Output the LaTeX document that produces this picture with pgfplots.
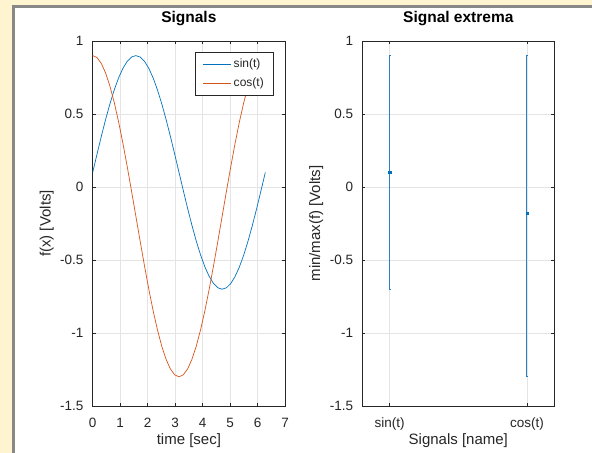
\documentclass[border=0pt]{standalone}
\usepackage{pgfplots}
\pgfplotsset{compat=1.18}
\usepackage{pgfplotstable}
\usepackage{fontspec}
\setmainfont{Liberation Sans}
\definecolor{beige}{RGB}{254,244,208}
\definecolor{framegray}{RGB}{136,136,136}
\definecolor{axgray}{RGB}{38,38,38}
\definecolor{gridgray}{RGB}{228,228,228}
\definecolor{mblue}{RGB}{0,114,189}
\definecolor{barblue}{RGB}{40,128,200}
\definecolor{morange}{RGB}{217,83,25}

\pgfplotstableread{
t sin cos
0.0000 0.1000 0.9000
0.1571 0.2251 0.8865
0.3142 0.3472 0.8462
0.4712 0.4632 0.7801
0.6283 0.5702 0.6899
0.7854 0.6657 0.5778
0.9425 0.7472 0.4466
1.0996 0.8128 0.2994
1.2566 0.8608 0.1399
1.4137 0.8902 -0.0279
1.5708 0.9000 -0.2000
1.7279 0.8902 -0.3721
1.8850 0.8608 -0.5399
2.0420 0.8128 -0.6994
2.1991 0.7472 -0.8466
2.3562 0.6657 -0.9778
2.5133 0.5702 -1.0899
2.6704 0.4632 -1.1801
2.8274 0.3472 -1.2462
2.9845 0.2251 -1.2865
3.1416 0.1000 -1.3000
3.2987 -0.0251 -1.2865
3.4558 -0.1472 -1.2462
3.6128 -0.2632 -1.1801
3.7699 -0.3702 -1.0899
3.9270 -0.4657 -0.9778
4.0841 -0.5472 -0.8466
4.2412 -0.6128 -0.6994
4.3982 -0.6608 -0.5399
4.5553 -0.6902 -0.3721
4.7124 -0.7000 -0.2000
4.8695 -0.6902 -0.0279
5.0265 -0.6608 0.1399
5.1836 -0.6128 0.2994
5.3407 -0.5472 0.4466
5.4978 -0.4657 0.5778
5.6549 -0.3702 0.6899
5.8119 -0.2632 0.7801
5.9690 -0.1472 0.8462
6.1261 -0.0251 0.8865
6.2832 0.1000 0.9000
}\signals

\pgfplotsset{
  octave/.style={
    scale only axis,
    axis line style={axgray, line width=0.6bp},
    tick style={axgray, line width=0.6bp},
    tick align=inside,
    major tick length=3bp,
    grid=major,
    grid style={gridgray, line width=0.6bp},
    ymin=-1.5, ymax=1,
    ytick={-1.5,-1,-0.5,0,0.5,1},
    yticklabels={-1.5,-1,-0.5,0,0.5,1},
    ticklabel style={font=\fontsize{13.5bp}{16bp}\selectfont, text=axgray},
    yticklabel style={anchor=east, inner sep=0pt, xshift=-9bp},
    xticklabel style={anchor=base, inner sep=0pt, yshift=-21.5bp},
    label style={font=\fontsize{15bp}{18bp}\selectfont, text=axgray},
    xlabel style={at={(axis description cs:0.5,0)}, anchor=base, yshift=-39bp, inner sep=0pt},
    ylabel style={at={(axis description cs:0,0.5)}, anchor=center, rotate=0, yshift=46bp, inner sep=0pt},
    title style={at={(axis description cs:0.5,1)}, anchor=base, yshift=13bp, inner sep=0pt, font=\fontsize{15.5bp}{18bp}\selectfont\bfseries},
  },
  errline/.style={color=barblue, line width=1.2bp, mark=-, mark size=1.2bp, mark options={solid, line width=0.6bp}},
}

\begin{document}
\begin{tikzpicture}[x=1bp,y=1bp]
\fill[beige] (0,0) rectangle (592,453);
\fill[framegray] (12,0) rectangle (592,448);
\fill[white] (15,0) rectangle (592,445);

\begin{axis}[octave,
  at={(92.7bp,47bp)}, anchor=south west,
  width=192.3bp, height=365bp,
  xmin=0, xmax=7,
  xtick={0,1,2,3,4,5,6,7},
  xticklabels={0,1,2,3,4,5,6,7},
  title={Signals},
  xlabel={time [sec]},
  ylabel={f(x) [Volts]},
  legend style={at={(axis description cs:0.943,0.971)}, anchor=north east,
    draw=axgray, line width=0.6bp, fill=white,
    font=\fontsize{12bp}{14bp}\selectfont, text=axgray,
    inner xsep=8bp, inner ysep=5bp, row sep=5bp},
  legend cell align=left,
  legend image code/.code={\draw[#1, line width=0.7bp] (0bp,0bp) -- (28bp,0bp);},
]
\addplot[mblue, line width=0.7bp] table[x=t, y=sin] {\signals};
\addlegendentry{sin(t)}
\addplot[morange, line width=0.7bp] table[x=t, y=cos] {\signals};
\addlegendentry{cos(t)}
\end{axis}

\begin{axis}[octave,
  at={(362.3bp,47bp)}, anchor=south west,
  width=192bp, height=365bp,
  xmin=0.8, xmax=2.2,
  xtick={1,2},
  xticklabels={sin(t),cos(t)},
  title={Signal extrema},
  xlabel={Signals [name]},
  ylabel={min/max(f) [Volts]},
]
% min/max ranges
\addplot[errline] coordinates {(1,-0.7) (1,0.9)};
\addplot[errline] coordinates {(2,-1.3) (2,0.9)};
% means
\addplot[color=mblue, only marks, mark=square*, mark size=1.1bp] coordinates {(1,0.1) (2,-0.18)};
\end{axis}

\pgfresetboundingbox
\useasboundingbox (0,0) rectangle (592,453);
\end{tikzpicture}
\end{document}
